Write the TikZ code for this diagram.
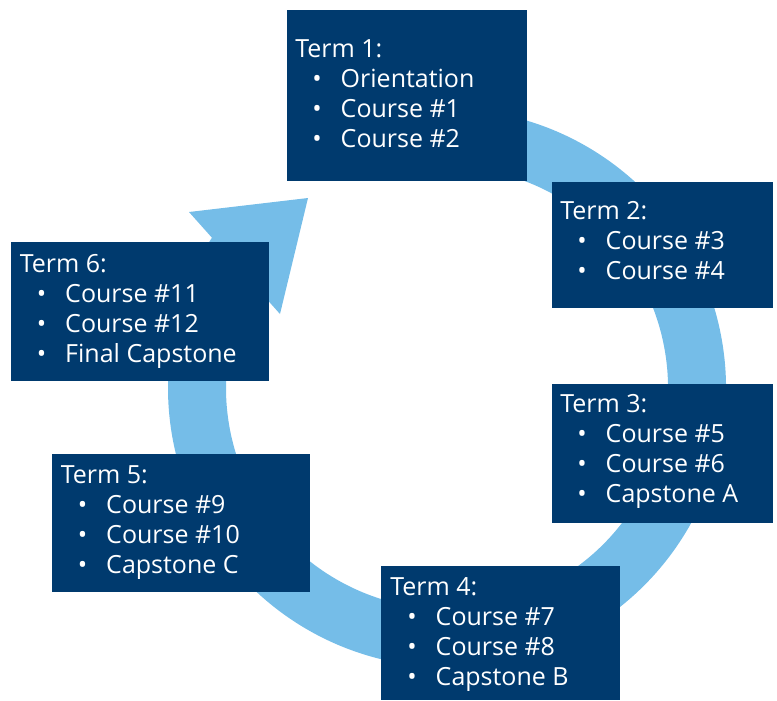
\documentclass[tikz,border=0pt]{standalone}
\usepackage{fontspec}
\setmainfont{Open Sans}
\usepackage{tikz}
\usetikzlibrary{positioning}

\definecolor{termnavy}{HTML}{003A6E}
\definecolor{ringblue}{HTML}{75BDE8}

\newcommand{\bul}[1]{\\\hspace*{12.8pt}\makebox[21.3pt][l]{\textbullet}#1}

\begin{document}
\begin{tikzpicture}[x=0.75pt, y=-0.75pt,
  termbox/.style 2 args={fill=termnavy, draw=none, inner sep=0, anchor=north west,
    minimum width=#1*0.75pt, minimum height=#2*0.75pt},
  termtext/.style={text=white, align=left, inner sep=0, anchor=base west,
    font=\fontsize{18.75}{22.5}\selectfont},
  ring/.style={draw=ringblue, line width=43.5pt}]

  \useasboundingbox (0,0) rectangle (777,700);

  % cycle arrow
  \coordinate (hub) at (447,388);
  \draw[ring] (hub) ++(-100:250) arc[start angle=-100, end angle=215, radius=250];
  \fill[ringblue] (308,198) -- (189,212) -- (280,314) -- cycle;

  % terms (text placed on the baseline of its last line)
  \node[termbox={240}{171}] (box1) at (287,10) {};
  \node[termtext] (term1) at ([shift={(8,137)}]box1.north west)
    {Term 1:\bul{Orientation}\bul{Course \#1}\bul{Course \#2}};

  \node[termbox={221}{126}] (box2) at (552,182) {};
  \node[termtext] (term2) at ([shift={(8,97)}]box2.north west)
    {Term 2:\bul{Course \#3}\bul{Course \#4}};

  \node[termbox={221}{139}] (box3) at (552,384) {};
  \node[termtext] (term3) at ([shift={(8,118.5)}]box3.north west)
    {Term 3:\bul{Course \#5}\bul{Course \#6}\bul{Capstone A}};

  \node[termbox={239}{134}] (box4) at (381,566) {};
  \node[termtext] (term4) at ([shift={(9,119)}]box4.north west)
    {Term 4:\bul{Course \#7}\bul{Course \#8}\bul{Capstone B}};

  \node[termbox={258}{138}] (box5) at (52,454) {};
  \node[termtext] (term5) at ([shift={(8.5,119.5)}]box5.north west)
    {Term 5:\bul{Course \#9}\bul{Course \#10}\bul{Capstone C}};

  \node[termbox={258}{139}] (box6) at (11,242) {};
  \node[termtext] (term6) at ([shift={(8.5,120)}]box6.north west)
    {Term 6:\bul{Course \#11}\bul{Course \#12}\bul{Final Capstone}};

\end{tikzpicture}
\end{document}
